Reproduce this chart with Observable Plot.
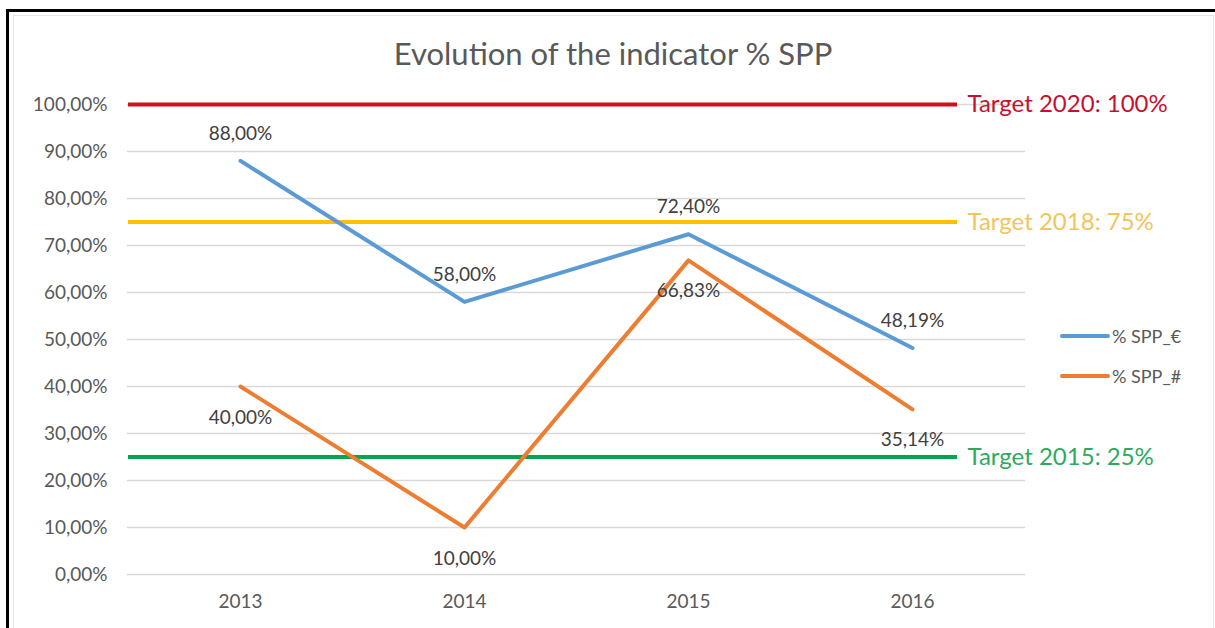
<!DOCTYPE html>
<html><head><meta charset="utf-8">
<script src="https://cdn.jsdelivr.net/npm/d3@7"></script>
<script src="https://cdn.jsdelivr.net/npm/@observablehq/plot@0.6"></script>
<style>
body{margin:0;background:#fff;}
#wrap{position:relative;width:1215px;height:628px;overflow:hidden;font-family:Lato,sans-serif;background:#fff;}
#frame{position:absolute;left:6px;top:9px;width:1215px;height:700px;border-left:3px solid #000;border-top:3px solid #000;}
#inner{position:absolute;left:13px;top:15px;width:1199px;height:700px;border:1px solid #e4e4e4;}
#title{position:absolute;left:0;width:1226px;top:38px;text-align:center;font-size:31px;line-height:1;color:#595959;}
#chart{position:absolute;left:0;top:0;}
#legend{position:absolute;left:1060px;top:325px;font-size:18px;color:#595959;}
.li{display:flex;align-items:center;height:22px;margin-bottom:18px;}
.sw{width:50px;height:4px;border-radius:2px;margin-right:2px;}
</style></head>
<body>
<div id="wrap">
  <div id="frame"></div>
  <div id="inner"></div>
  <div id="chart"></div>
  <div id="title">Evolution of the indicator % SPP</div>
  <div id="legend"></div>
</div>
<script>
const years = ["2013", "2014", "2015", "2016"];
const seriesNames = ["% SPP_€", "% SPP_#"];
const sppEuro = [0.88, 0.58, 0.724, 0.4819];
const sppCount = [0.40, 0.10, 0.6683, 0.3514];
const seriesColors = ["#5B9BD5", "#ED7D31"];
const targetYears = ["2020", "2018", "2015"];
const targetValues = [1.00, 0.75, 0.25];
const targetLabels = ["100%", "75%", "25%"];
const targetLineColors = ["#D0101C", "#FFC000", "#00A550"];
const targetTextColors = ["#C8102E", "#F2C45C", "#2EAA5E"];
const yTicks = [0, 0.1, 0.2, 0.3, 0.4, 0.5, 0.6, 0.7, 0.8, 0.9, 1.0];

const data = [];
years.forEach((y, i) => {
  data.push({year: y, series: seriesNames[0], value: sppEuro[i]});
  data.push({year: y, series: seriesNames[1], value: sppCount[i]});
});
const targets = targetYears.map((y, i) => ({year: y, value: targetValues[i], label: targetLabels[i], line: targetLineColors[i], text: targetTextColors[i]}));
const pct = d => d3.format(".2f")(d * 100).replace(".", ",") + "%";

const targetMarks = targets.flatMap(t => [
  Plot.ruleY([t.value], {stroke: t.line, strokeWidth: 4, insetLeft: 1, insetRight: 68}),
  Plot.text([t], {y: "value", text: d => `Target ${d.year}: ${d.label}`, frameAnchor: "right", textAnchor: "start", dx: -58, fill: t.text, fontSize: 24})
]);

const chart = Plot.plot({
  width: 1215, height: 628,
  marginLeft: 127, marginRight: 190, marginTop: 104, marginBottom: 54,
  style: {fontFamily: "Lato, sans-serif", fontSize: "18px", color: "#595959", background: "transparent"},
  x: {type: "point", domain: years, padding: 0.5, label: null},
  y: {domain: [0, 1], label: null},
  color: {domain: seriesNames, range: seriesColors},
  marks: [
    Plot.ruleY(yTicks, {stroke: "#d9d9d9", strokeWidth: 1.5}),
    ...targetMarks,
    Plot.line(data, {x: "year", y: "value", stroke: "series", strokeWidth: 4, strokeLinecap: "round", strokeLinejoin: "round"}),
    Plot.text(data, {x: "year", y: "value", text: d => pct(d.value), fill: "#404040", fontSize: 19,
      filter: d => d.series === seriesNames[0], dy: -27}),
    Plot.text(data, {x: "year", y: "value", text: d => pct(d.value), fill: "#404040", fontSize: 19,
      filter: d => d.series === seriesNames[1], dy: 31}),
    Plot.axisY({ticks: yTicks, tickFormat: pct, tickSize: 0, tickPadding: 20, fontSize: 19, fill: "#595959"}),
    Plot.axisX({tickSize: 0, tickPadding: 20, fontSize: 19, fill: "#595959"})
  ]
});
document.getElementById("chart").appendChild(chart);

const legend = document.getElementById("legend");
seriesNames.forEach((s, i) => {
  const row = document.createElement("div");
  row.className = "li";
  const sw = document.createElement("div");
  sw.className = "sw";
  sw.style.background = seriesColors[i];
  const tx = document.createElement("span");
  tx.textContent = s;
  row.appendChild(sw); row.appendChild(tx);
  legend.appendChild(row);
});
</script>
</body></html>
